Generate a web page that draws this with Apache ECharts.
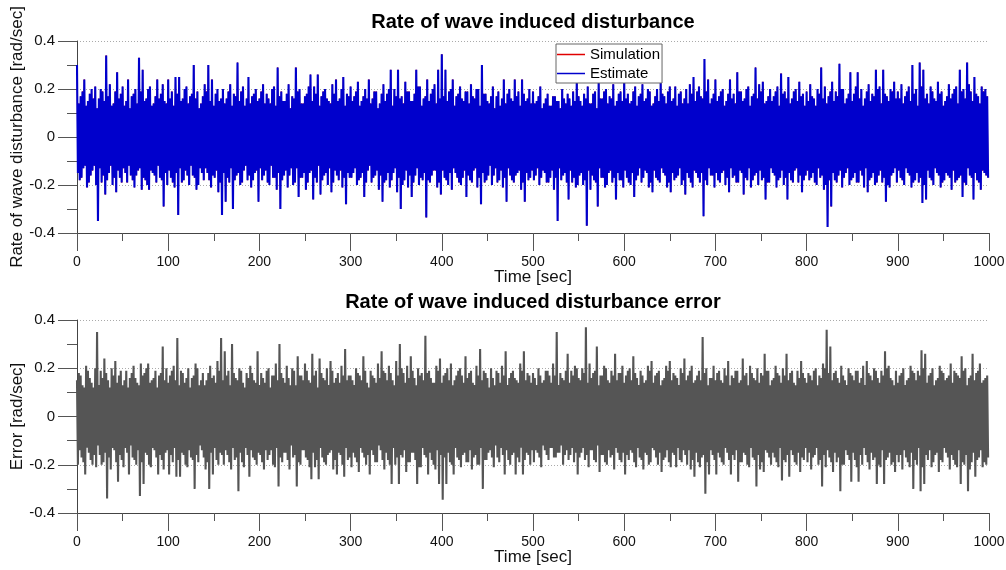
<!DOCTYPE html>
<html>
<head>
<meta charset="utf-8">
<script src="https://cdn.jsdelivr.net/npm/echarts@6/dist/echarts.min.js"></script>
<style>html,body{margin:0;padding:0;background:#fff}#c{width:1006px;height:570px}</style>
</head>
<body>
<div id="c"></div>
<script>
// ---- data ----
// upper values sit at t = 0,2,4,...  lower values at t = 1,3,5,... seconds
const sampleStep = 1;
const titles = ['Rate of wave induced disturbance', 'Rate of wave induced disturbance error'];
const yNames = ['Rate of wave disturbance [rad/sec]', 'Error [rad/sec]'];
const xName = 'Time [sec]';
const legendNames = ['Simulation', 'Estimate'];

const estimateUpper = [
0.30,0.14,0.17,0.19,0.24,0.13,0.15,0.18,0.20,0.16,0.21,0.12,0.16,0.20,0.19,0.15,0.34,0.17,0.22,0.13,0.14,0.19,0.27,0.16,0.18,0.21,0.13,0.15,0.24,0.12,0.17,0.18,0.20,0.14,0.33,0.19,0.28,0.15,0.16,0.20,0.21,0.13,0.14,0.17,0.24,0.16,0.18,0.22,0.15,0.14,
0.24,0.16,0.19,0.13,0.25,0.18,0.25,0.15,0.16,0.20,0.21,0.14,0.17,0.18,0.30,0.16,0.19,0.12,0.14,0.17,0.22,0.19,0.30,0.15,0.24,0.13,0.18,0.20,0.15,0.16,0.20,0.14,0.16,0.19,0.22,0.13,0.18,0.17,0.31,0.15,0.19,0.21,0.13,0.16,0.25,0.14,0.17,0.18,0.20,0.15,
0.16,0.19,0.22,0.14,0.18,0.16,0.14,0.20,0.21,0.13,0.29,0.17,0.19,0.15,0.15,0.18,0.22,0.12,0.17,0.16,0.29,0.19,0.20,0.14,0.14,0.17,0.18,0.21,0.26,0.15,0.21,0.18,0.26,0.13,0.17,0.19,0.20,0.16,0.15,0.14,0.22,0.18,0.24,0.15,0.16,0.20,0.25,0.13,0.18,0.17,
0.21,0.15,0.17,0.19,0.23,0.13,0.15,0.17,0.20,0.16,0.24,0.14,0.16,0.19,0.19,0.12,0.14,0.18,0.22,0.15,0.18,0.20,0.28,0.13,0.20,0.17,0.28,0.16,0.17,0.14,0.23,0.19,0.19,0.15,0.15,0.18,0.28,0.21,0.21,0.13,0.16,0.17,0.24,0.15,0.18,0.20,0.22,0.14,0.28,0.16,
0.345,0.17,0.28,0.15,0.19,0.20,0.24,0.13,0.17,0.18,0.21,0.16,0.15,0.19,0.19,0.14,0.22,0.17,0.16,0.20,0.20,0.13,0.30,0.18,0.18,0.15,0.14,0.17,0.21,0.12,0.17,0.19,0.13,0.16,0.24,0.14,0.18,0.20,0.16,0.15,0.24,0.17,0.19,0.13,0.24,0.18,0.15,0.16,0.20,0.14,
0.19,0.14,0.15,0.17,0.21,0.12,0.14,0.16,0.18,0.13,0.13,0.17,0.17,0.15,0.15,0.12,0.20,0.16,0.14,0.18,0.16,0.13,0.19,0.15,0.24,0.17,0.15,0.13,0.18,0.16,0.21,0.14,0.14,0.18,0.19,0.12,0.23,0.16,0.16,0.19,0.20,0.14,0.17,0.16,0.22,0.13,0.15,0.18,0.19,0.15,
0.24,0.16,0.18,0.14,0.15,0.19,0.21,0.13,0.17,0.18,0.22,0.15,0.16,0.20,0.19,0.13,0.14,0.17,0.20,0.15,0.23,0.18,0.17,0.14,0.19,0.21,0.15,0.16,0.21,0.13,0.18,0.19,0.14,0.16,0.20,0.14,0.22,0.18,0.25,0.15,0.19,0.21,0.17,0.16,0.325,0.19,0.24,0.14,0.16,0.18,
0.24,0.15,0.17,0.19,0.20,0.13,0.15,0.18,0.24,0.16,0.18,0.14,0.27,0.19,0.19,0.15,0.16,0.20,0.21,0.13,0.17,0.18,0.29,0.16,0.22,0.19,0.23,0.14,0.15,0.17,0.20,0.15,0.17,0.19,0.21,0.13,0.265,0.18,0.19,0.16,0.25,0.14,0.16,0.19,0.20,0.15,0.23,0.17,0.18,0.13,
0.19,0.15,0.22,0.17,0.16,0.13,0.20,0.18,0.29,0.16,0.21,0.14,0.17,0.19,0.23,0.15,0.19,0.17,0.305,0.20,0.20,0.14,0.16,0.18,0.27,0.15,0.18,0.21,0.27,0.16,0.20,0.13,0.16,0.19,0.22,0.15,0.18,0.17,0.28,0.20,0.21,0.14,0.28,0.18,0.17,0.15,0.20,0.19,0.23,0.16,
0.19,0.16,0.22,0.14,0.17,0.19,0.21,0.15,0.30,0.18,0.20,0.13,0.31,0.21,0.28,0.16,0.18,0.14,0.21,0.19,0.16,0.15,0.23,0.18,0.19,0.13,0.15,0.17,0.22,0.16,0.18,0.20,0.21,0.14,0.28,0.19,0.20,0.16,0.31,0.22,0.19,0.15,0.25,0.18,0.17,0.14,0.21,0.19,0.20,0.17
];
const estimateLower = [
-0.15,-0.18,-0.17,-0.13,-0.12,-0.21,-0.19,-0.16,-0.14,-0.12,-0.20,-0.35,-0.13,-0.19,-0.16,-0.24,-0.18,-0.15,-0.12,-0.20,-0.17,-0.23,-0.14,-0.17,-0.19,-0.13,-0.15,-0.19,-0.12,-0.16,-0.18,-0.21,-0.16,-0.14,-0.13,-0.22,-0.17,-0.18,-0.20,-0.22,-0.14,-0.15,-0.16,-0.19,-0.12,-0.17,-0.18,-0.29,-0.15,-0.20,
-0.14,-0.17,-0.19,-0.21,-0.15,-0.325,-0.13,-0.19,-0.18,-0.14,-0.16,-0.20,-0.12,-0.16,-0.17,-0.22,-0.20,-0.13,-0.15,-0.18,-0.13,-0.15,-0.18,-0.21,-0.16,-0.17,-0.14,-0.23,-0.19,-0.325,-0.15,-0.27,-0.17,-0.19,-0.13,-0.30,-0.18,-0.16,-0.15,-0.20,-0.19,-0.14,-0.12,-0.18,-0.16,-0.21,-0.18,-0.15,-0.14,-0.27,
-0.13,-0.18,-0.16,-0.14,-0.19,-0.20,-0.12,-0.17,-0.17,-0.22,-0.15,-0.30,-0.18,-0.16,-0.14,-0.21,-0.16,-0.13,-0.20,-0.19,-0.13,-0.25,-0.17,-0.17,-0.15,-0.22,-0.19,-0.15,-0.14,-0.26,-0.17,-0.19,-0.12,-0.24,-0.18,-0.16,-0.15,-0.20,-0.13,-0.23,-0.19,-0.14,-0.16,-0.18,-0.14,-0.21,-0.17,-0.28,-0.15,-0.17,
-0.17,-0.15,-0.13,-0.20,-0.18,-0.17,-0.15,-0.25,-0.19,-0.14,-0.12,-0.19,-0.17,-0.16,-0.14,-0.22,-0.16,-0.27,-0.19,-0.18,-0.15,-0.21,-0.18,-0.15,-0.13,-0.23,-0.17,-0.30,-0.20,-0.18,-0.14,-0.21,-0.16,-0.25,-0.19,-0.16,-0.13,-0.20,-0.17,-0.18,-0.15,-0.335,-0.18,-0.19,-0.16,-0.14,-0.14,-0.21,-0.19,-0.24,
-0.14,-0.17,-0.18,-0.20,-0.15,-0.22,-0.13,-0.15,-0.17,-0.19,-0.20,-0.17,-0.14,-0.25,-0.16,-0.18,-0.19,-0.14,-0.13,-0.21,-0.17,-0.28,-0.15,-0.19,-0.18,-0.16,-0.12,-0.20,-0.16,-0.13,-0.19,-0.18,-0.14,-0.21,-0.17,-0.27,-0.13,-0.16,-0.18,-0.19,-0.16,-0.15,-0.14,-0.22,-0.19,-0.27,-0.15,-0.18,-0.17,-0.14,
-0.18,-0.16,-0.13,-0.20,-0.17,-0.14,-0.15,-0.19,-0.19,-0.17,-0.14,-0.22,-0.17,-0.35,-0.13,-0.18,-0.16,-0.15,-0.19,-0.26,-0.14,-0.19,-0.17,-0.21,-0.20,-0.16,-0.15,-0.20,-0.18,-0.37,-0.14,-0.22,-0.16,-0.18,-0.19,-0.29,-0.13,-0.17,-0.17,-0.21,-0.20,-0.15,-0.14,-0.19,-0.17,-0.26,-0.15,-0.18,-0.18,-0.21,
-0.14,-0.17,-0.19,-0.20,-0.15,-0.25,-0.18,-0.16,-0.13,-0.19,-0.17,-0.14,-0.15,-0.21,-0.19,-0.23,-0.14,-0.17,-0.18,-0.19,-0.13,-0.15,-0.16,-0.21,-0.19,-0.23,-0.15,-0.18,-0.17,-0.16,-0.13,-0.20,-0.18,-0.24,-0.15,-0.17,-0.19,-0.21,-0.14,-0.15,-0.17,-0.19,-0.15,-0.33,-0.18,-0.20,-0.13,-0.16,-0.16,-0.21,
-0.15,-0.18,-0.19,-0.15,-0.14,-0.20,-0.17,-0.23,-0.13,-0.17,-0.16,-0.19,-0.19,-0.14,-0.15,-0.24,-0.17,-0.18,-0.13,-0.21,-0.18,-0.16,-0.15,-0.20,-0.14,-0.18,-0.17,-0.26,-0.19,-0.19,-0.13,-0.15,-0.16,-0.21,-0.18,-0.17,-0.14,-0.20,-0.17,-0.26,-0.15,-0.18,-0.19,-0.14,-0.13,-0.19,-0.16,-0.23,-0.18,-0.16,
-0.14,-0.18,-0.17,-0.15,-0.19,-0.20,-0.13,-0.17,-0.16,-0.22,-0.20,-0.375,-0.18,-0.29,-0.15,-0.18,-0.19,-0.16,-0.14,-0.21,-0.17,-0.15,-0.13,-0.20,-0.18,-0.17,-0.15,-0.19,-0.19,-0.14,-0.16,-0.21,-0.13,-0.23,-0.18,-0.17,-0.15,-0.20,-0.19,-0.16,-0.14,-0.19,-0.17,-0.27,-0.20,-0.21,-0.16,-0.15,-0.13,-0.19,
-0.14,-0.17,-0.18,-0.20,-0.13,-0.15,-0.16,-0.21,-0.19,-0.18,-0.15,-0.19,-0.17,-0.275,-0.20,-0.26,-0.14,-0.17,-0.18,-0.20,-0.13,-0.15,-0.16,-0.21,-0.19,-0.18,-0.15,-0.16,-0.17,-0.22,-0.14,-0.19,-0.18,-0.17,-0.16,-0.25,-0.19,-0.20,-0.13,-0.16,-0.17,-0.26,-0.15,-0.18,-0.19,-0.22,-0.14,-0.15,-0.16,-0.17
];

const errorUpper = [
0.15,0.18,0.17,0.13,0.12,0.21,0.19,0.16,0.14,0.12,0.20,0.35,0.13,0.19,0.16,0.24,0.18,0.15,0.12,0.20,0.17,0.23,0.14,0.17,0.19,0.13,0.15,0.19,0.12,0.16,0.18,0.21,0.16,0.14,0.13,0.22,0.17,0.18,0.20,0.22,0.14,0.15,0.16,0.19,0.12,0.17,0.18,0.29,0.15,0.20,
0.14,0.17,0.19,0.21,0.15,0.325,0.13,0.19,0.18,0.14,0.16,0.20,0.12,0.16,0.17,0.22,0.20,0.13,0.15,0.18,0.13,0.15,0.18,0.21,0.16,0.17,0.14,0.23,0.19,0.325,0.15,0.27,0.17,0.19,0.13,0.30,0.18,0.16,0.15,0.20,0.19,0.14,0.12,0.18,0.16,0.21,0.18,0.15,0.14,0.27,
0.13,0.18,0.16,0.14,0.19,0.20,0.12,0.17,0.17,0.22,0.15,0.30,0.18,0.16,0.14,0.21,0.16,0.13,0.20,0.19,0.13,0.25,0.17,0.17,0.15,0.22,0.19,0.15,0.14,0.26,0.17,0.19,0.12,0.24,0.18,0.16,0.15,0.20,0.13,0.23,0.19,0.14,0.16,0.18,0.14,0.21,0.17,0.28,0.15,0.17,
0.17,0.15,0.13,0.20,0.18,0.17,0.15,0.25,0.19,0.14,0.12,0.19,0.17,0.16,0.14,0.22,0.16,0.27,0.19,0.18,0.15,0.21,0.18,0.15,0.13,0.23,0.17,0.30,0.20,0.18,0.14,0.21,0.16,0.25,0.19,0.16,0.13,0.20,0.17,0.18,0.15,0.335,0.18,0.19,0.16,0.14,0.14,0.21,0.19,0.24,
0.14,0.17,0.18,0.20,0.15,0.22,0.13,0.15,0.17,0.19,0.20,0.17,0.14,0.25,0.16,0.18,0.19,0.14,0.13,0.21,0.17,0.28,0.15,0.19,0.18,0.16,0.12,0.20,0.16,0.13,0.19,0.18,0.14,0.21,0.17,0.27,0.13,0.16,0.18,0.19,0.16,0.15,0.14,0.22,0.19,0.27,0.15,0.18,0.17,0.14,
0.18,0.16,0.13,0.20,0.17,0.14,0.15,0.19,0.19,0.17,0.14,0.22,0.17,0.35,0.13,0.18,0.16,0.15,0.19,0.26,0.14,0.19,0.17,0.21,0.20,0.16,0.15,0.20,0.18,0.37,0.14,0.22,0.16,0.18,0.19,0.29,0.13,0.17,0.17,0.21,0.20,0.15,0.14,0.19,0.17,0.26,0.15,0.18,0.18,0.21,
0.14,0.17,0.19,0.20,0.15,0.25,0.18,0.16,0.13,0.19,0.17,0.14,0.15,0.21,0.19,0.23,0.14,0.17,0.18,0.19,0.13,0.15,0.16,0.21,0.19,0.23,0.15,0.18,0.17,0.16,0.13,0.20,0.18,0.24,0.15,0.17,0.19,0.21,0.14,0.15,0.17,0.19,0.15,0.33,0.18,0.20,0.13,0.16,0.16,0.21,
0.15,0.18,0.19,0.15,0.14,0.20,0.17,0.23,0.13,0.17,0.16,0.19,0.19,0.14,0.15,0.24,0.17,0.18,0.13,0.21,0.18,0.16,0.15,0.20,0.14,0.18,0.17,0.26,0.19,0.19,0.13,0.15,0.16,0.21,0.18,0.17,0.14,0.20,0.17,0.26,0.15,0.18,0.19,0.14,0.13,0.19,0.16,0.23,0.18,0.16,
0.14,0.18,0.17,0.15,0.19,0.20,0.13,0.17,0.16,0.22,0.20,0.36,0.18,0.29,0.15,0.18,0.19,0.16,0.14,0.21,0.17,0.15,0.13,0.20,0.18,0.17,0.15,0.19,0.19,0.14,0.16,0.21,0.13,0.23,0.18,0.17,0.15,0.20,0.19,0.16,0.14,0.19,0.17,0.27,0.20,0.21,0.16,0.15,0.13,0.19,
0.14,0.17,0.18,0.20,0.13,0.15,0.16,0.21,0.19,0.18,0.15,0.19,0.17,0.275,0.20,0.26,0.14,0.17,0.18,0.20,0.13,0.15,0.16,0.21,0.19,0.18,0.15,0.16,0.17,0.22,0.14,0.19,0.18,0.17,0.16,0.25,0.19,0.20,0.13,0.16,0.17,0.26,0.15,0.18,0.19,0.22,0.14,0.15,0.16,0.17
];
const errorLower = [
-0.20,-0.14,-0.17,-0.19,-0.24,-0.13,-0.15,-0.18,-0.20,-0.16,-0.21,-0.12,-0.16,-0.20,-0.19,-0.15,-0.34,-0.17,-0.22,-0.13,-0.14,-0.19,-0.27,-0.16,-0.18,-0.21,-0.13,-0.15,-0.24,-0.12,-0.17,-0.18,-0.20,-0.14,-0.33,-0.19,-0.28,-0.15,-0.16,-0.20,-0.21,-0.13,-0.14,-0.17,-0.24,-0.16,-0.18,-0.22,-0.15,-0.14,
-0.24,-0.16,-0.19,-0.13,-0.25,-0.18,-0.25,-0.15,-0.16,-0.20,-0.21,-0.14,-0.17,-0.18,-0.30,-0.16,-0.19,-0.12,-0.14,-0.17,-0.22,-0.19,-0.30,-0.15,-0.24,-0.13,-0.18,-0.20,-0.15,-0.16,-0.20,-0.14,-0.16,-0.19,-0.22,-0.13,-0.18,-0.17,-0.31,-0.15,-0.19,-0.21,-0.13,-0.16,-0.25,-0.14,-0.17,-0.18,-0.20,-0.15,
-0.16,-0.19,-0.22,-0.14,-0.18,-0.16,-0.14,-0.20,-0.21,-0.13,-0.29,-0.17,-0.19,-0.15,-0.15,-0.18,-0.22,-0.12,-0.17,-0.16,-0.29,-0.19,-0.20,-0.14,-0.14,-0.17,-0.18,-0.21,-0.26,-0.15,-0.21,-0.18,-0.26,-0.13,-0.17,-0.19,-0.20,-0.16,-0.15,-0.14,-0.22,-0.18,-0.24,-0.15,-0.16,-0.20,-0.25,-0.13,-0.18,-0.17,
-0.21,-0.15,-0.17,-0.19,-0.23,-0.13,-0.15,-0.17,-0.20,-0.16,-0.24,-0.14,-0.16,-0.19,-0.19,-0.12,-0.14,-0.18,-0.22,-0.15,-0.18,-0.20,-0.28,-0.13,-0.20,-0.17,-0.28,-0.16,-0.17,-0.14,-0.23,-0.19,-0.19,-0.15,-0.15,-0.18,-0.28,-0.21,-0.21,-0.13,-0.16,-0.17,-0.24,-0.15,-0.18,-0.20,-0.22,-0.14,-0.28,-0.16,
-0.345,-0.17,-0.28,-0.15,-0.19,-0.20,-0.24,-0.13,-0.17,-0.18,-0.21,-0.16,-0.15,-0.19,-0.19,-0.14,-0.22,-0.17,-0.16,-0.20,-0.20,-0.13,-0.30,-0.18,-0.18,-0.15,-0.14,-0.17,-0.21,-0.12,-0.17,-0.19,-0.13,-0.16,-0.24,-0.14,-0.18,-0.20,-0.16,-0.15,-0.24,-0.17,-0.19,-0.13,-0.24,-0.18,-0.15,-0.16,-0.20,-0.14,
-0.19,-0.14,-0.15,-0.17,-0.21,-0.12,-0.14,-0.16,-0.18,-0.13,-0.13,-0.17,-0.17,-0.15,-0.15,-0.12,-0.20,-0.16,-0.14,-0.18,-0.16,-0.13,-0.19,-0.15,-0.24,-0.17,-0.15,-0.13,-0.18,-0.16,-0.21,-0.14,-0.14,-0.18,-0.19,-0.12,-0.23,-0.16,-0.16,-0.19,-0.20,-0.14,-0.17,-0.16,-0.22,-0.13,-0.15,-0.18,-0.19,-0.15,
-0.24,-0.16,-0.18,-0.14,-0.15,-0.19,-0.21,-0.13,-0.17,-0.18,-0.22,-0.15,-0.16,-0.20,-0.19,-0.13,-0.14,-0.17,-0.20,-0.15,-0.23,-0.18,-0.17,-0.14,-0.19,-0.21,-0.15,-0.16,-0.21,-0.13,-0.18,-0.19,-0.14,-0.16,-0.20,-0.14,-0.22,-0.18,-0.25,-0.15,-0.19,-0.21,-0.17,-0.16,-0.32,-0.19,-0.24,-0.14,-0.16,-0.18,
-0.24,-0.15,-0.17,-0.19,-0.20,-0.13,-0.15,-0.18,-0.24,-0.16,-0.18,-0.14,-0.27,-0.19,-0.19,-0.15,-0.16,-0.20,-0.21,-0.13,-0.17,-0.18,-0.29,-0.16,-0.22,-0.19,-0.23,-0.14,-0.15,-0.17,-0.20,-0.15,-0.17,-0.19,-0.21,-0.13,-0.265,-0.18,-0.19,-0.16,-0.25,-0.14,-0.16,-0.19,-0.20,-0.15,-0.23,-0.17,-0.18,-0.13,
-0.19,-0.15,-0.22,-0.17,-0.16,-0.13,-0.20,-0.18,-0.29,-0.16,-0.21,-0.14,-0.17,-0.19,-0.23,-0.15,-0.19,-0.17,-0.31,-0.20,-0.20,-0.14,-0.16,-0.18,-0.27,-0.15,-0.18,-0.21,-0.27,-0.16,-0.20,-0.13,-0.16,-0.19,-0.22,-0.15,-0.18,-0.17,-0.28,-0.20,-0.21,-0.14,-0.28,-0.18,-0.17,-0.15,-0.20,-0.19,-0.23,-0.16,
-0.19,-0.16,-0.22,-0.14,-0.17,-0.19,-0.21,-0.15,-0.30,-0.18,-0.20,-0.13,-0.31,-0.21,-0.28,-0.16,-0.18,-0.14,-0.21,-0.19,-0.16,-0.15,-0.23,-0.18,-0.19,-0.13,-0.15,-0.17,-0.22,-0.16,-0.18,-0.20,-0.21,-0.14,-0.28,-0.19,-0.20,-0.16,-0.31,-0.22,-0.19,-0.15,-0.25,-0.18,-0.17,-0.14,-0.21,-0.19,-0.20,-0.17
];

// ---- chart ----
const FONT = '"Liberation Sans", Arial, Helvetica, sans-serif';
// interleave an upper and a lower value list into [time, value] pairs
function buildSeries(upper, lower) {
  const out = [];
  for (let i = 0; i < upper.length; i++) {
    out.push([(2 * i) * sampleStep, upper[i]]);
    out.push([(2 * i + 1) * sampleStep, lower[i]]);
  }
  return out;
}
const estimatePairs = buildSeries(estimateUpper, estimateLower);
const simulationPairs = estimatePairs; // the simulation trace is hidden under the estimate in the reference
const errorPairs = buildSeries(errorUpper, errorLower);

function makeX(gridIndex) {
  return {
    type: 'value', gridIndex: gridIndex, min: 0, max: 1000, interval: 100,
    name: xName, nameLocation: 'middle', nameGap: 36, nameMoveOverlap: false,
    nameTextStyle: { fontFamily: FONT, fontSize: 17, color: '#111' },
    axisLine: { show: true, onZero: false, lineStyle: { color: '#444', width: 1 } },
    axisTick: { show: true, length: 18, lineStyle: { color: '#555', width: 1 } },
    minorTick: { show: true, splitNumber: 2, length: 8, lineStyle: { color: '#555', width: 1 } },
    axisLabel: { margin: 22, fontFamily: FONT, fontSize: 14, color: '#111', formatter: v => String(v) },
    splitLine: { show: false }
  };
}
function makeY(gridIndex, name) {
  return {
    type: 'value', gridIndex: gridIndex, min: -0.4, max: 0.4, interval: 0.2,
    name: name, nameLocation: 'middle', nameGap: 51, nameMoveOverlap: false,
    nameTextStyle: { fontFamily: FONT, fontSize: 17, color: '#111' },
    axisLine: { show: true, onZero: false, lineStyle: { color: '#444', width: 1 } },
    axisTick: { show: true, length: 19, lineStyle: { color: '#555', width: 1 } },
    minorTick: { show: true, splitNumber: 2, length: 10, lineStyle: { color: '#555', width: 1 } },
    axisLabel: { margin: 22, fontFamily: FONT, fontSize: 15, color: '#111' },
    splitLine: { show: true, lineStyle: { color: '#aaa', width: 1, type: [1, 2] } }
  };
}

const chart = echarts.init(document.getElementById('c'), null, { renderer: 'canvas' });
chart.setOption({
  animation: false,
  backgroundColor: '#fff',
  grid: [
    { left: 77, top: 41, width: 912, height: 192, containLabel: false, outerBoundsMode: 'none' },
    { left: 77, top: 320, width: 912, height: 193, containLabel: false, outerBoundsMode: 'none' }
  ],
  graphic: [
    { type: 'text', x: 533, y: 22, z: 10,
      style: { text: titles[0], font: 'bold 20px ' + FONT, fill: '#000', textAlign: 'center', textVerticalAlign: 'middle', align: 'center', verticalAlign: 'middle' } },
    { type: 'text', x: 533, y: 302, z: 10,
      style: { text: titles[1], font: 'bold 20px ' + FONT, fill: '#000', textAlign: 'center', textVerticalAlign: 'middle', align: 'center', verticalAlign: 'middle' } }
  ],
  legend: {
    data: legendNames, orient: 'vertical', left: 556, top: 44,
    icon: 'rect',
    padding: [3, 2, 2, 1], itemGap: 4, itemWidth: 28, itemHeight: 1.5,
    borderColor: '#666', borderWidth: 1, backgroundColor: '#fff',
    selectedMode: false,
    textStyle: { fontFamily: FONT, fontSize: 15, color: '#000' }
  },
  xAxis: [makeX(0), makeX(1)],
  yAxis: [makeY(0, yNames[0]), makeY(1, yNames[1])],
  series: [
    { name: legendNames[0], type: 'line', xAxisIndex: 0, yAxisIndex: 0, data: simulationPairs,
      symbol: 'none', z: 2, silent: true,
      lineStyle: { color: '#e00000', width: 0.8 }, itemStyle: { color: '#e00000' } },
    { name: legendNames[1], type: 'line', xAxisIndex: 0, yAxisIndex: 0, data: estimatePairs,
      symbol: 'none', z: 3, silent: true,
      lineStyle: { color: '#0000cc', width: 2.1 }, itemStyle: { color: '#0000cc' } },
    { name: 'Error', type: 'line', xAxisIndex: 1, yAxisIndex: 1, data: errorPairs,
      symbol: 'none', z: 3, silent: true,
      lineStyle: { color: '#555555', width: 2.1 }, itemStyle: { color: '#555555' } }
  ]
});
</script>
</body>
</html>
